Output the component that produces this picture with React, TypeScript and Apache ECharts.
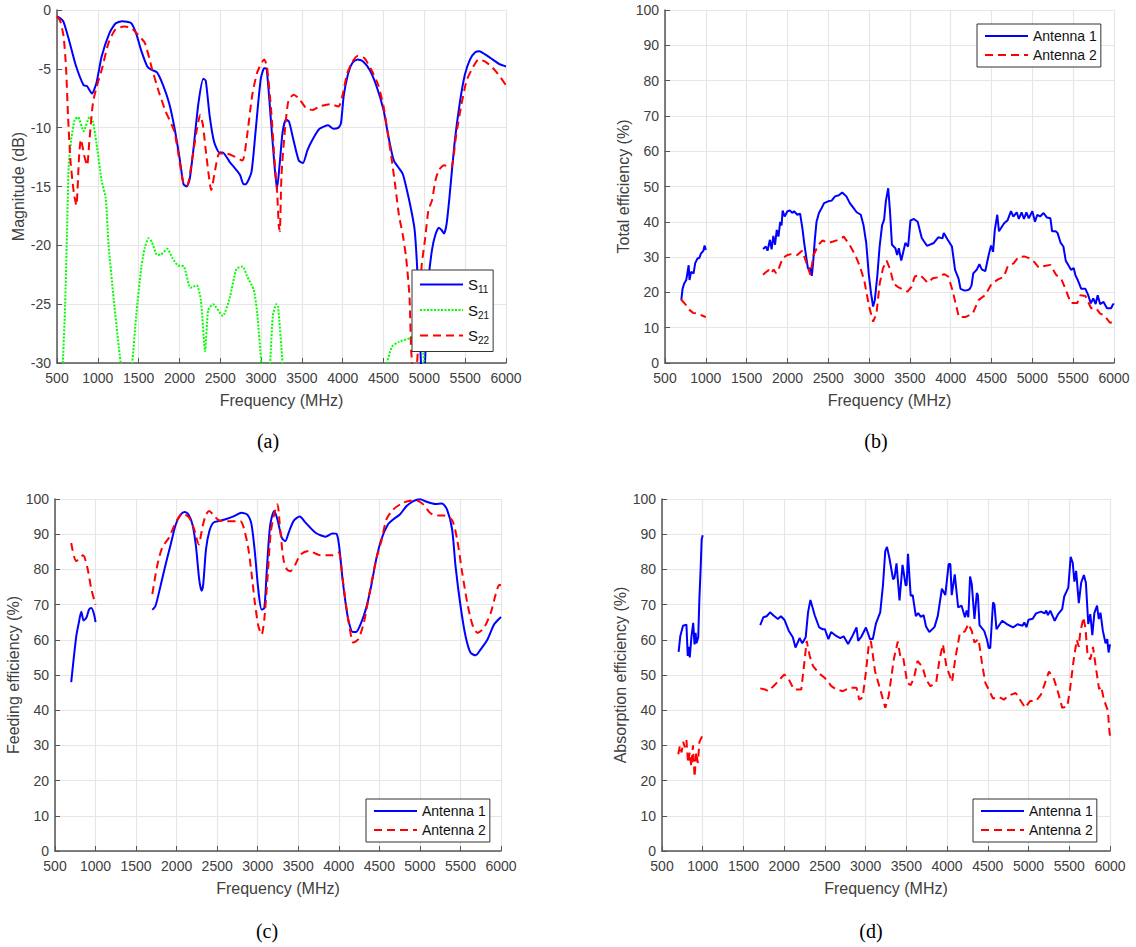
import { useEffect, useRef } from "react";
import * as echarts from "echarts";

type Pt = [number, number | null];

// panel (a)
const s11: Pt[] = [[500,-0.55],[540,-0.7],[580,-1],[645,-2.5],[730,-4.7],[826,-6.4],[865,-6.45],[928,-7.1],[983,-6.2],[1047,-3.95],[1140,-2],[1216,-1.15],[1300,-0.95],[1407,-1.1],[1470,-2],[1534,-3.5],[1606,-4.8],[1660,-5.1],[1725,-5.3],[1800,-6.4],[1873,-7.9],[1936,-9.9],[2000,-12.5],[2050,-14.8],[2090,-15],[2127,-14.3],[2170,-11.9],[2233,-7.9],[2292,-5.85],[2322,-6],[2370,-9],[2424,-11.2],[2487,-12.1],[2530,-12.1],[2614,-12.9],[2741,-14],[2784,-14.8],[2810,-14.8],[2881,-13.8],[2930,-10.5],[2995,-5.9],[3038,-4.95],[3068,-5],[3123,-9.6],[3165,-13.3],[3195,-15.2],[3229,-13],[3263,-10.4],[3305,-9.3],[3343,-9.5],[3398,-11.1],[3462,-12.8],[3513,-13],[3568,-11.9],[3631,-11],[3716,-10.1],[3822,-9.8],[3885,-10.1],[3949,-10],[3979,-9.6],[4012,-7.3],[4063,-5.5],[4118,-4.5],[4182,-4.2],[4246,-4.35],[4331,-5.1],[4415,-6.5],[4500,-8.5],[4564,-10.9],[4627,-12.8],[4733,-13.9],[4776,-15],[4839,-17],[4881,-18.7],[4911,-21.8],[4936,-26],[4958,-30],[4985,-33],[5008,-30],[5030,-26],[5050,-23],[5093,-20.4],[5135,-19.1],[5178,-18.5],[5210,-18.7],[5242,-19],[5272,-18.2],[5305,-16.1],[5370,-11.3],[5434,-7.9],[5496,-5.5],[5560,-4.2],[5623,-3.6],[5675,-3.5],[5750,-3.8],[5835,-4.2],[5920,-4.6],[6000,-4.8]];
const s21: Pt[] = [[572,-30],[600,-25],[622,-19],[644,-13.2],[674,-11],[716,-9.35],[758,-9.1],[826,-10.3],[898,-9.1],[940,-9.5],[983,-11.3],[1047,-14.5],[1097,-16],[1131,-19.9],[1195,-24.6],[1280,-30],[1350,-33],[1420,-30],[1470,-26],[1534,-21.8],[1576,-20.2],[1623,-19.4],[1661,-19.7],[1725,-20.8],[1767,-20.8],[1852,-20.3],[1915,-21.1],[1979,-21.7],[2055,-21.8],[2135,-23.6],[2212,-23.4],[2263,-24.7],[2314,-29],[2352,-25.5],[2411,-25],[2530,-26],[2614,-24.5],[2699,-22],[2775,-21.8],[2826,-22.6],[2911,-23.8],[2953,-25.8],[3004,-30],[3060,-33],[3110,-30],[3144,-26],[3187,-25],[3208,-25.2],[3263,-30],[3290,-33],[3400,null],[4500,-33],[4543,-30],[4606,-28.6],[4690,-28.2],[4818,-27.9],[4900,-27.5],[4960,-28],[5000,-30],[5030,-33]];
const s22: Pt[] = [[500,-0.55],[538,-0.9],[580,-2.2],[610,-4.8],[635,-9],[665,-12.8],[707,-15.6],[737,-16.6],[770,-12.5],[792,-11],[835,-12.4],[869,-13.2],[898,-11],[940,-7.9],[983,-6.6],[1047,-5.1],[1131,-2.8],[1216,-1.65],[1322,-1.4],[1407,-1.5],[1491,-2.1],[1576,-2.8],[1660,-4.9],[1745,-6.9],[1830,-8.6],[1936,-10.3],[2000,-12.8],[2050,-14.8],[2097,-14.9],[2148,-13],[2212,-10.2],[2254,-8.9],[2288,-9.8],[2330,-12.4],[2390,-15.3],[2437,-13.6],[2487,-12.2],[2572,-12.2],[2657,-12.4],[2771,-12.8],[2826,-10.8],[2890,-7.3],[2953,-5.3],[3038,-4.2],[3072,-4.8],[3123,-8.5],[3165,-12.8],[3199,-15.8],[3216,-18.3],[3229,-18.8],[3250,-14],[3292,-10.2],[3335,-7.7],[3398,-7.2],[3462,-7.5],[3547,-8.3],[3631,-8.5],[3716,-8.2],[3843,-8],[3949,-8.2],[3992,-7.4],[4055,-5.4],[4118,-4.4],[4182,-3.9],[4267,-4.1],[4352,-5.1],[4436,-6.4],[4500,-8.2],[4564,-11],[4606,-13],[4648,-15.2],[4690,-17.5],[4733,-19],[4776,-21],[4818,-24.4],[4839,-29],[4870,-31],[4910,-30],[4940,-26],[4966,-21.8],[5008,-19.5],[5050,-17],[5093,-16.2],[5135,-14.5],[5178,-13.6],[5242,-13.2],[5326,-13.4],[5390,-10.6],[5455,-8],[5517,-6],[5600,-4.8],[5665,-4.2],[5750,-4.4],[5835,-4.9],[5920,-5.6],[6000,-6.4]];

// panel (b)
const totalAnt1: Pt[] = [[700,17.9],[715,21],[735,22.5],[760,23.5],[790,27.7],[800,23.5],[820,25.8],[850,25.4],[870,28.3],[900,29.7],[920,29.7],[940,31],[970,31.8],[985,33.3],[1000,32],[1350,null],[1701,32.3],[1735,33],[1756,31.8],[1785,34.9],[1806,32.2],[1827,36],[1848,33.5],[1869,37.7],[1890,35.8],[1911,40],[1928,39],[1941,43.2],[1966,41.5],[2000,43],[2029,43.2],[2062,42.5],[2080,43],[2121,42],[2155,42.3],[2184,38],[2205,34],[2230,30],[2251,26.8],[2281,26.8],[2298,24.7],[2314,28.2],[2335,34.9],[2356,40],[2386,42.5],[2419,43.9],[2449,45.3],[2499,45.8],[2541,46],[2583,47.2],[2629,47.5],[2671,48.3],[2722,47.2],[2764,45.3],[2806,44],[2848,42.7],[2898,42],[2932,39],[2965,34],[2995,25.4],[3024,19.7],[3049,16],[3070,17.8],[3100,24.5],[3129,33],[3159,39],[3184,40.6],[3205,45.8],[3234,49.5],[3255,43.4],[3280,33.5],[3322,32.5],[3343,30.6],[3364,32.5],[3394,29],[3444,34],[3478,33],[3507,40.4],[3549,40.8],[3595,40],[3645,35.4],[3709,33.2],[3793,34],[3847,35.6],[3898,35.3],[3915,36.8],[3961,35],[4015,33],[4053,26.4],[4095,24],[4120,21],[4171,20.5],[4213,20.7],[4234,21],[4255,22],[4276,25.4],[4318,26.4],[4351,28],[4380,26.5],[4423,26],[4465,30.6],[4494,33.3],[4519,31.5],[4540,37.7],[4570,42],[4591,37.3],[4654,39.6],[4696,40.4],[4738,43],[4767,41.5],[4809,42.7],[4834,40.8],[4868,42.7],[4897,40.8],[4927,42.7],[4956,41],[5000,43],[5032,40],[5061,42],[5095,41.5],[5137,42.5],[5179,41.2],[5221,41],[5242,37.3],[5284,37.3],[5309,36.8],[5347,34],[5380,33],[5409,29],[5439,27.8],[5473,26.4],[5506,26.9],[5527,24.9],[5556,23.5],[5599,21],[5650,21],[5684,19.2],[5716,16.9],[5746,18.3],[5775,16.7],[5800,19.2],[5830,16.7],[5872,17.3],[5914,15.5],[5964,15.5],[5990,16.7],[6000,16.5]];
const totalAnt2: Pt[] = [[697,18],[748,16.7],[790,15.2],[844,14.2],[903,14],[990,13.1],[1000,13],[1350,null],[1700,25],[1735,25.7],[1770,26.3],[1800,25.4],[1830,26.5],[1860,25.4],[1890,26.5],[1940,29.7],[2000,30.6],[2060,30.9],[2120,30.6],[2180,31.8],[2220,29.2],[2280,25],[2320,30.6],[2380,33.5],[2430,34.7],[2500,34],[2560,34.4],[2640,35],[2690,35.8],[2760,33.5],[2830,30.6],[2880,27.8],[2940,23.5],[3000,16],[3050,11.7],[3090,14],[3130,22.5],[3170,26.8],[3215,29],[3260,26.4],[3300,22.5],[3350,21.6],[3420,20.7],[3470,20.2],[3520,21.6],[3560,24.5],[3620,25],[3670,23.9],[3720,22.7],[3780,24],[3850,24.3],[3920,25.2],[3970,24.5],[4020,20.7],[4060,16.9],[4100,13],[4180,13],[4270,14],[4340,17.8],[4420,19.2],[4500,22.4],[4580,23.7],[4650,24.4],[4700,27.5],[4770,28.2],[4830,30],[4900,30.2],[4960,29.7],[5020,28.7],[5080,27],[5150,27.5],[5220,27.8],[5290,25],[5360,23.5],[5410,20.7],[5470,17],[5550,17],[5590,19.2],[5650,19],[5720,15.5],[5780,15.5],[5830,14],[5880,13.5],[5950,11.4],[6000,11.7]];

// panel (c)
const feedAnt1: Pt[] = [[700,48],[762,61],[795,65],[824,68],[853,65.5],[887,66.3],[920,68.6],[949,69],[982,67.2],[1000,65],[1350,null],[1700,68.5],[1739,69.6],[1801,75.3],[1864,81.4],[1926,87],[1988,92.7],[2051,95.6],[2100,96.3],[2146,95.6],[2196,92.7],[2238,86.6],[2279,77],[2308,73.9],[2328,75.8],[2362,85.7],[2404,90.9],[2454,93.3],[2529,93.8],[2612,94.3],[2716,95.2],[2799,96.1],[2874,95.5],[2923,92.8],[2965,84.8],[3007,74.3],[3048,68.6],[3081,69],[3110,79],[3152,92.3],[3202,96.6],[3243,94.2],[3297,89],[3339,88],[3381,90.4],[3443,93.8],[3518,95],[3589,93.3],[3713,90.4],[3838,89.3],[3921,90.2],[3971,90.1],[4004,86.6],[4046,77.2],[4088,69.7],[4121,65.3],[4171,62.2],[4212,62.2],[4275,64.8],[4337,69],[4399,75.3],[4462,83],[4524,88.5],[4607,92.8],[4670,94.2],[4753,95.6],[4836,98],[4919,99.4],[5002,99.9],[5085,99.2],[5189,98.6],[5272,98.7],[5335,97],[5397,91.4],[5439,81],[5501,69.6],[5563,61],[5625,56.3],[5688,55.6],[5750,57.3],[5833,60.1],[5916,64.4],[6000,66.5]];
const feedAnt2: Pt[] = [[700,87.5],[762,82.4],[845,84],[899,80.5],[949,74.3],[1000,70],[1350,null],[1700,73],[1760,81],[1822,86.2],[1905,89],[1988,93.3],[2071,95.9],[2154,94.7],[2217,91.4],[2271,87.1],[2321,92.3],[2362,95.6],[2404,96.6],[2446,95.6],[2520,94],[2612,93.7],[2786,93.7],[2828,91.8],[2882,86.2],[2923,79],[2965,70.5],[3007,64],[3048,61.5],[3081,65.8],[3119,77],[3160,90.4],[3202,95.6],[3243,98.5],[3277,91.4],[3318,82.8],[3360,80],[3402,79.5],[3464,81.4],[3526,84.2],[3630,85.2],[3776,84],[3921,84],[3996,84.8],[4046,77.6],[4088,70],[4129,64],[4179,59.2],[4241,60.2],[4308,64.8],[4379,73.4],[4462,83],[4524,88],[4587,94.2],[4670,97],[4774,98.7],[4878,99.5],[4961,99.5],[5044,98.4],[5127,96],[5210,95.3],[5293,95.3],[5397,94],[5459,88.5],[5522,79],[5584,70.5],[5646,64.4],[5709,62],[5791,63.4],[5874,67.7],[5936,73],[5978,75.6],[6000,75.5]];

// panel (d)
const absAnt1: Pt[] = [[704,56.6],[725,61.1],[758,64],[800,64.3],[816,55.4],[828,58],[841,55],[862,61],[883,64.8],[899,58.7],[912,62],[924,59],[945,60.7],[958,71],[974,80],[987,88.5],[1000,89.7],[1350,null],[1706,64.2],[1744,66.4],[1785,66.7],[1827,67.8],[1869,66.9],[1923,65.9],[1960,66.7],[2002,65.7],[2056,62.6],[2106,60.7],[2139,57.8],[2189,60.5],[2222,59],[2264,60.7],[2293,67.8],[2322,71.3],[2376,66.9],[2430,63.5],[2472,63],[2500,63],[2543,60.2],[2576,62.2],[2638,61.1],[2688,60.5],[2730,61],[2784,58.8],[2838,61.1],[2888,63.5],[2908,59.7],[2950,61],[3004,63.5],[3054,60.2],[3088,60.2],[3125,64.5],[3179,67.8],[3212,75.3],[3241,85.2],[3262,86.4],[3291,83.3],[3337,77.2],[3354,77.6],[3379,81.7],[3416,71.2],[3453,81.3],[3491,75.5],[3503,75.5],[3520,84.4],[3553,72.5],[3578,72.7],[3616,66.7],[3645,67.6],[3678,66.5],[3712,67],[3741,63.8],[3782,62.2],[3845,63.6],[3886,66.8],[3936,74.5],[3978,72.7],[4019,81.5],[4040,81.5],[4057,72.7],[4094,78.6],[4136,69.2],[4178,69.7],[4219,66.4],[4240,68.3],[4261,66.4],[4282,78],[4303,75.8],[4336,65.9],[4365,73.3],[4378,72.7],[4398,64.2],[4456,62.5],[4490,60],[4510,57.7],[4530,57.7],[4564,70.6],[4581,70.1],[4606,63],[4677,65.4],[4739,64.4],[4810,63.5],[4864,64.4],[4926,64],[4947,64.9],[4974,63.6],[5000,65.7],[5051,66],[5092,67.5],[5154,68],[5197,67.5],[5217,68.3],[5238,67],[5267,68.3],[5321,65.4],[5363,67.3],[5413,68.7],[5438,72.3],[5488,74.8],[5517,83.6],[5542,81.9],[5563,76.5],[5584,79.6],[5617,70.4],[5646,76.2],[5679,78.4],[5704,76.2],[5733,64.5],[5758,67.3],[5783,61.3],[5808,67.6],[5841,69.7],[5862,65.9],[5883,67.7],[5912,62.6],[5945,59],[5966,60.2],[5983,56.4],[6000,58.7]];
const absAnt2: Pt[] = [[700,27.5],[720,30],[740,28],[760,31],[780,29.5],[800,31.5],[820,25],[840,28],[860,24],[880,30],[900,21],[920,28],[940,25],[960,31],[1000,33],[1350,null],[1706,46.2],[1764,45.9],[1806,45.4],[1889,47.3],[2002,50.2],[2056,48.8],[2118,45.9],[2210,45.9],[2243,52.5],[2276,59.7],[2314,55.4],[2355,52.5],[2430,50.4],[2493,49.3],[2534,48.3],[2576,46.9],[2638,45.9],[2721,45.4],[2805,46.4],[2888,46.4],[2921,43],[2963,43.6],[3004,50.9],[3042,59.4],[3066,59.5],[3116,51],[3179,45.9],[3241,40.7],[3283,44],[3345,54.4],[3395,59.5],[3428,55],[3461,55],[3511,47.8],[3553,47.1],[3595,49.3],[3637,54],[3699,52.2],[3741,48.8],[3795,46.8],[3866,47.9],[3907,54.4],[3949,58.7],[3991,52.5],[4061,48],[4103,55],[4157,61.9],[4219,62.4],[4261,64.5],[4303,62.5],[4336,59.2],[4386,60.2],[4427,53.6],[4469,47.8],[4510,45.9],[4564,43.3],[4635,43.8],[4697,43],[4760,44.2],[4843,44.9],[4905,42.6],[4959,40.7],[5018,42.6],[5092,42.6],[5154,44.5],[5251,51],[5313,48.8],[5363,45],[5413,40.7],[5475,41],[5509,45.9],[5550,53.6],[5592,60],[5617,58],[5634,62],[5675,66.4],[5700,63],[5725,55.4],[5758,54.4],[5791,58],[5825,52.4],[5866,46],[5891,46.8],[5925,43],[5975,39.8],[5987,35.6],[6000,32.5]];

const BLUE = "#0000ff";
const RED = "#ff0000";
const GREEN = "#00ff00";
const INK = "#404040";
const SANS = "Liberation Sans";

const panels = [
  { cap: "(a)", capX: 268, capY: 441, left: 57, top: 10, width: 449, height: 353, min: -30, max: 0, step: 5, yName: "Magnitude (dB)", nameGap: 30 },
  { cap: "(b)", capX: 876, capY: 441, left: 665, top: 10, width: 449, height: 353, min: 0, max: 100, step: 10, yName: "Total efficiency (%)", nameGap: 33 },
  { cap: "(c)", capX: 267, capY: 931, left: 55, top: 499, width: 446, height: 352, min: 0, max: 100, step: 10, yName: "Feeding efficiency (%)", nameGap: 34 },
  { cap: "(d)", capX: 871, capY: 931, left: 662, top: 499, width: 448, height: 352, min: 0, max: 100, step: 10, yName: "Absorption efficiency (%)", nameGap: 33 },
];

function makeLine(name: string, data: Pt[], i: number, color: string, kind: "solid" | "dashed" | "dotted", smooth: number) {
  return {
    type: "line",
    name,
    data,
    xAxisIndex: i,
    yAxisIndex: i,
    symbol: "none",
    smooth,
    lineStyle: {
      color,
      width: 2,
      type: kind === "dashed" ? [8, 5] : kind === "dotted" ? [2, 1.5] : "solid",
    },
    itemStyle: { color },
  };
}

// the line series legend always adds a marker, so it is made invisible
const hiddenMarker = { opacity: 0, borderWidth: 0 };

function antennaLegend(left: number, top: number) {
  return {
    data: ["Antenna 1", "Antenna 2"],
    orient: "vertical",
    left,
    top,
    itemStyle: hiddenMarker,
    itemWidth: 43,
    itemHeight: 14,
    itemGap: 5,
    padding: [5, 4, 5, 7],
    backgroundColor: "#fff",
    borderColor: "#333",
    borderWidth: 1,
    textStyle: { fontFamily: SANS, fontSize: 14, color: "#111" },
  };
}

const sLegend = {
  data: ["S11", "S21", "S22"],
  orient: "vertical",
  left: 412,
  top: 270,
  itemStyle: hiddenMarker,
  itemWidth: 43,
  itemHeight: 14,
  itemGap: 8,
  padding: [7, 4, 6, 7],
  backgroundColor: "#fff",
  borderColor: "#333",
  borderWidth: 1,
  formatter: (n: string) => `S{sub|${n.slice(1)}}`,
  textStyle: {
    fontFamily: SANS,
    fontSize: 15,
    color: "#111",
    rich: { sub: { fontFamily: SANS, fontSize: 10, color: "#111", padding: [10, 0, 0, 0] } },
  },
};

export default function App() {
  const ref = useRef<HTMLDivElement>(null);

  useEffect(() => {
    if (!ref.current) return;
    const chart = echarts.init(ref.current, undefined, { renderer: "svg" });

    chart.setOption({
      animation: false,
      backgroundColor: "#fff",
      title: panels.map((p) => ({
        text: p.cap,
        left: p.capX,
        top: p.capY,
        textAlign: "center",
        textVerticalAlign: "middle",
        padding: 0,
        textStyle: { fontFamily: "Liberation Serif", fontSize: 20, fontWeight: "normal", color: "#000" },
      })),
      grid: panels.map((p) => ({ left: p.left, top: p.top, width: p.width, height: p.height })),
      xAxis: panels.map((_, i) => ({
        type: "value",
        gridIndex: i,
        min: 500,
        max: 6000,
        interval: 500,
        name: "Frequency (MHz)",
        nameLocation: "middle",
        nameGap: 29,
        nameTextStyle: { fontFamily: SANS, fontSize: 16, color: INK },
        axisLine: { onZero: false, lineStyle: { color: "#555", width: 1.5 } },
        axisTick: { inside: true, length: 5, lineStyle: { color: "#555" } },
        axisLabel: { fontFamily: SANS, fontSize: 14, color: INK, margin: 8, hideOverlap: false, formatter: (v: number) => String(v) },
        splitLine: { show: true, lineStyle: { color: "#e6e6e6", width: 1.2 } },
      })),
      yAxis: panels.map((p, i) => ({
        type: "value",
        gridIndex: i,
        min: p.min,
        max: p.max,
        interval: p.step,
        name: p.yName,
        nameLocation: "middle",
        nameGap: p.nameGap,
        nameTextStyle: { fontFamily: SANS, fontSize: 16, color: INK },
        axisLine: { show: true, onZero: false, lineStyle: { color: "#555", width: 1.5 } },
        axisTick: { show: true, inside: true, length: 5, lineStyle: { color: "#555" } },
        axisLabel: { fontFamily: SANS, fontSize: 14, color: INK, margin: 6, hideOverlap: false },
        splitLine: { show: true, lineStyle: { color: "#e6e6e6", width: 1.2 } },
      })),
      legend: [sLegend, antennaLegend(977, 24), antennaLegend(366, 799), antennaLegend(973, 799)],
      series: [
        makeLine("S11", s11, 0, BLUE, "solid", 0.2),
        makeLine("S21", s21, 0, GREEN, "dotted", 0.2),
        makeLine("S22", s22, 0, RED, "dashed", 0.2),
        makeLine("Antenna 1", totalAnt1, 1, BLUE, "solid", 0),
        makeLine("Antenna 2", totalAnt2, 1, RED, "dashed", 0),
        makeLine("Antenna 1", feedAnt1, 2, BLUE, "solid", 0.25),
        makeLine("Antenna 2", feedAnt2, 2, RED, "dashed", 0.25),
        makeLine("Antenna 1", absAnt1, 3, BLUE, "solid", 0),
        makeLine("Antenna 2", absAnt2, 3, RED, "dashed", 0),
      ],
    });

    return () => {
      chart.dispose();
    };
  }, []);

  return <div ref={ref} style={{ position: "absolute", left: 0, top: 0, width: 1136, height: 947 }} />;
}
